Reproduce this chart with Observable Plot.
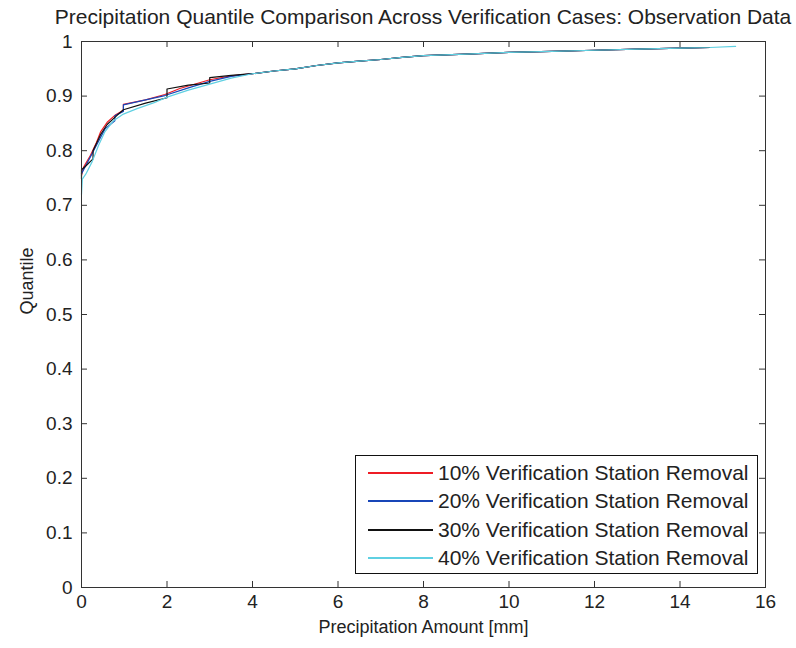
<!DOCTYPE html>
<html><head><meta charset="utf-8">
<script src="https://cdn.jsdelivr.net/npm/d3@7"></script>
<script src="https://cdn.jsdelivr.net/npm/@observablehq/plot@0.6"></script>
<style>
body{margin:0;background:#fff;font-family:"Liberation Sans",Arial,sans-serif;}
#wrap{position:relative;width:796px;height:648px;overflow:hidden;}
#title{position:absolute;left:423px;top:5px;transform:translateX(-50%);white-space:nowrap;font-size:21px;color:#222;line-height:24px;}
#plot{position:absolute;left:0;top:30px;}
#legend{position:absolute;left:355px;top:455px;width:401px;height:117px;border:1px solid #111;background:#fff;}
.row{position:absolute;left:0;height:24px;width:100%;}
.row .sw{position:absolute;left:12px;top:11px;width:65px;height:2px;}
.row .lb{position:absolute;left:82px;top:0;font-size:21px;line-height:24px;color:#222;white-space:nowrap;}
</style>
</head><body>
<div id="wrap">
  <div id="title"></div>
  <div id="plot"></div>
  <div id="legend"></div>
</div>
<script>
const titleText = "Precipitation Quantile Comparison Across Verification Cases: Observation Data";
const xLabel = "Precipitation Amount [mm]";
const yLabel = "Quantile";
const seriesNames = ["10% Verification Station Removal","20% Verification Station Removal","30% Verification Station Removal","40% Verification Station Removal"];
const seriesColors = ["#ee1c25","#1846b8","#111111","#5fd0e2"];
const xTicks = [0,2,4,6,8,10,12,14,16];
const yTicks = [0,0.1,0.2,0.3,0.4,0.5,0.6,0.7,0.8,0.9,1];

// head sections (0–4 mm) per series
const head10X = [0,0.05,0.2,0.35,0.45,0.6,0.8,0.98,0.98,1.5,1.95,2.3,2.7,3.0,3.5];
const head10Q = [0.755,0.77,0.79,0.815,0.835,0.852,0.866,0.874,0.885,0.893,0.903,0.914,0.923,0.930,0.937];
const head20X = [0,0.15,0.35,0.55,0.78,0.78,0.98,0.98,1.5,1.95,2.5,3.0,3.5];
const head20Q = [0.758,0.78,0.81,0.84,0.855,0.864,0.872,0.884,0.893,0.901,0.915,0.927,0.936];
const head30X = [0,0,0.1,0.27,0.27,0.45,0.6,0.85,0.98,1.5,2.0,2.0,2.5,3.0,3.0,3.5];
const head30Q = [0.748,0.765,0.772,0.785,0.8,0.83,0.848,0.866,0.875,0.887,0.897,0.913,0.92,0.924,0.934,0.938];
const head40X = [0,0.02,0.1,0.25,0.4,0.55,0.75,0.98,1.3,1.7,2.0,2.5,3.0,3.5];
const head40Q = [0.72,0.748,0.757,0.78,0.81,0.835,0.855,0.867,0.877,0.888,0.898,0.911,0.922,0.933];
// shared upper tail
const tailX = [4,4.5,5,5.5,6,6.5,7,7.5,8,9,10,11,12,13,14,14.7];
const tailQ = [0.941,0.946,0.950,0.956,0.961,0.964,0.967,0.971,0.974,0.977,0.980,0.982,0.984,0.986,0.988,0.989];
const ext40X = [15.3];
const ext40Q = [0.991];

const heads = [[head10X,head10Q],[head20X,head20Q],[head30X,head30Q],[head40X,head40Q]];
const rows = [];
heads.forEach(([hx,hq],i) => {
  const xs = hx.concat(tailX, i === 3 ? ext40X : []);
  const qs = hq.concat(tailQ, i === 3 ? ext40Q : []);
  xs.forEach((x,j) => rows.push({series: seriesNames[i], x, q: qs[j]}));
});

document.getElementById("title").textContent = titleText;

const font = '"Liberation Sans", Arial, sans-serif';
const tickLenY = 0.011;  // inward tick length, y units
const tickLenX = 0.14;   // inward tick length, x units
const axisStroke = "#333";
const chart = Plot.plot({
  width: 796, height: 618,
  marginTop: 11, marginLeft: 81, marginRight: 31, marginBottom: 61,
  x: {domain: [0,16]},
  y: {domain: [0,1]},
  color: {domain: seriesNames, range: seriesColors},
  style: {fontFamily: font, fontSize: "19px", color: "#222", background: "#fff"},
  marks: [
    Plot.line(rows, {x: "x", y: "q", z: "series", stroke: "series", strokeWidth: 1.2}),
    Plot.frame({stroke: axisStroke}),
    Plot.ruleX(xTicks, {x: d => d, y1: 0, y2: tickLenY, stroke: axisStroke}),
    Plot.ruleX(xTicks, {x: d => d, y1: 1, y2: 1 - tickLenY, stroke: axisStroke}),
    Plot.ruleY(yTicks, {y: d => d, x1: 0, x2: tickLenX, stroke: axisStroke}),
    Plot.ruleY(yTicks, {y: d => d, x1: 16, x2: 16 - tickLenX, stroke: axisStroke}),
    Plot.axisX(xTicks, {anchor: "bottom", tickSize: 0, tickPadding: 7, label: null, fontSize: 19, fill: "#222"}),
    Plot.axisY(yTicks, {anchor: "left", tickSize: 0, tickPadding: 9, label: null, fontSize: 19, fill: "#222", tickFormat: d => String(d)}),
    Plot.text([xLabel], {frameAnchor: "bottom", dy: 40, lineAnchor: "middle", fontSize: 18, fill: "#222", text: d => d}),
    Plot.text([yLabel], {frameAnchor: "left", dx: -54, rotate: -90, fontSize: 18, fill: "#222", text: d => d})
  ]
});
document.getElementById("plot").appendChild(chart);

const legend = document.getElementById("legend");
const rowTops = [5, 33, 62, 90];
seriesNames.forEach((name,i) => {
  const r = document.createElement("div");
  r.className = "row";
  r.style.top = rowTops[i] + "px";
  const sw = document.createElement("div");
  sw.className = "sw";
  sw.style.background = seriesColors[i];
  const lb = document.createElement("div");
  lb.className = "lb";
  lb.textContent = name;
  r.appendChild(sw); r.appendChild(lb);
  legend.appendChild(r);
});
</script>
</body></html>
